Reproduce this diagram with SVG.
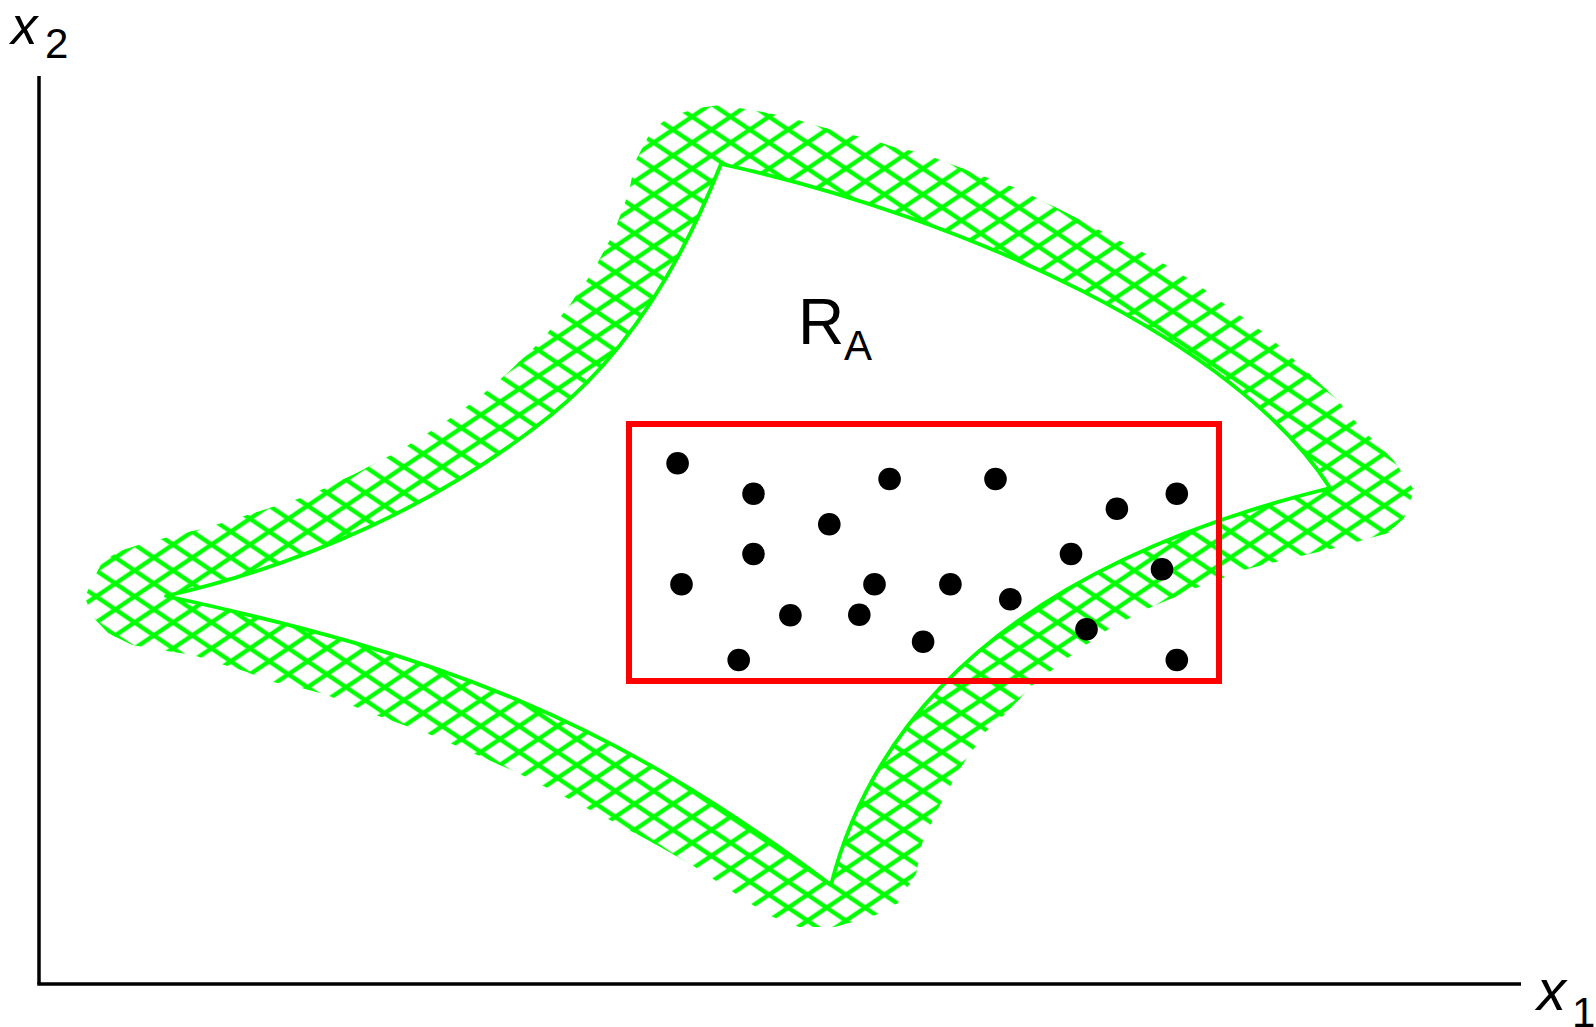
<svg xmlns="http://www.w3.org/2000/svg" width="1596" height="1027" viewBox="0 0 1596 1027">
  <style>
    .axis { stroke: #000; stroke-width: 3.5; fill: none; }
    .lbl { font-family: "Liberation Sans", Arial, sans-serif; fill: #000; }
    .inner { fill: none; stroke: #00ff00; stroke-width: 3.8; stroke-linejoin: round; }
    .box { fill: none; stroke: #ff0000; stroke-width: 6; }
    .dot { fill: #000; }
  </style>
  <defs>
    <pattern id="hatchA" width="40" height="21.5" patternUnits="userSpaceOnUse" patternTransform="rotate(34)">
      <line x1="-1" y1="10.75" x2="41" y2="10.75" stroke="#00ff00" stroke-width="4.2"/>
    </pattern>
    <pattern id="hatchB" width="40" height="21.5" patternUnits="userSpaceOnUse" patternTransform="rotate(-34)">
      <line x1="-1" y1="10.75" x2="41" y2="10.75" stroke="#00ff00" stroke-width="4.2"/>
    </pattern>
    <clipPath id="bandClip">
      <path clip-rule="evenodd" d="M84.6,597 L102.4,561.4 120.3,550.7 149.3,541.8 207.3,527.5 258.7,511.4 310,495 354.6,474 399.3,450.7 439.5,425.7 477.4,399 508.6,372 542,340 569,306 593.5,270.4 613.6,232.9 629,191.8 635,161.7 651.7,130 670,116.7 696.7,108.3 720,105 751.7,110 787,116.7 837.7,131.7 866.7,138.3 892.8,146.7 922.7,153.3 970.9,171.7 1016.8,188.3 1067.3,213.3 1108.6,235 1154.5,258.3 1195.9,283.3 1232.6,310 1269.3,336.7 1301.5,366.7 1335.9,398.3 1361,428.3 1393.3,460 1414,490 1404,518 1388,533 1339,547 1275.5,562 1247,569 1196,588 1149,608 1110,628 1069,657 1032.7,685 1004,715 985.7,731.7 961,766.7 940.8,803 922.4,841.7 916.3,873 898,903 875.5,915 849,923 834.7,927 799,927 768,915 732.6,891.7 692,865 651,841.7 610,820 518,773 470,751.7 426.5,733 370,713 327,695 298,687 273,682 247,672 218,663 193,655 160,650 132,645 108,633 93,617 Z M721,164 C965,217 1238,342 1330,488 C1053.5,556.4 881.6,686.4 831,885 C607,717 439.6,655.6 166,596 C304.5,564.5 440.2,503.8 551,415 C629.8,351.9 683.8,258 721,164 Z"/>
    </clipPath>
  </defs>

  <g id="axes">
    <line class="axis" x1="39" y1="76" x2="39" y2="984"/>
    <line class="axis" x1="37.25" y1="984" x2="1521" y2="984"/>
  </g>

  <g id="axis-labels">
    <text class="lbl" font-size="53"><tspan x="11" y="44" font-style="italic">x</tspan><tspan x="45" y="58" font-size="42">2</tspan></text>
    <text class="lbl" font-size="58"><tspan x="1537" y="1010" font-style="italic">x</tspan><tspan x="1572" y="1027" font-size="42">1</tspan></text>
  </g>

  <g id="region-RA">
    <g id="band-hatch" clip-path="url(#bandClip)">
      <rect x="60" y="90" width="1380" height="860" fill="url(#hatchA)"/>
      <rect x="60" y="90" width="1380" height="860" fill="url(#hatchB)"/>
    </g>
    <path id="inner-boundary" class="inner" d="M721,164 C965,217 1238,342 1330,488 C1053.5,556.4 881.6,686.4 831,885 C607,717 439.6,655.6 166,596 C304.5,564.5 440.2,503.8 551,415 C629.8,351.9 683.8,258 721,164 Z"/>
    <text class="lbl" font-size="64"><tspan x="798" y="344">R</tspan><tspan x="844" y="360" font-size="42">A</tspan></text>
  </g>

  <g id="sample-box">
    <rect class="box" x="629" y="424" width="590" height="257"/>
  </g>

  <g id="samples">
    <circle class="dot" cx="677.6" cy="463.3" r="11.3"/>
    <circle class="dot" cx="753.5" cy="493.7" r="11.3"/>
    <circle class="dot" cx="889.6" cy="479" r="11.3"/>
    <circle class="dot" cx="995.5" cy="479" r="11.3"/>
    <circle class="dot" cx="1116.9" cy="508.7" r="11.3"/>
    <circle class="dot" cx="1176.8" cy="493.7" r="11.3"/>
    <circle class="dot" cx="829.3" cy="524.3" r="11.3"/>
    <circle class="dot" cx="753.5" cy="554" r="11.3"/>
    <circle class="dot" cx="681.5" cy="584.3" r="11.3"/>
    <circle class="dot" cx="1071" cy="554" r="11.3"/>
    <circle class="dot" cx="1162" cy="569.3" r="11.3"/>
    <circle class="dot" cx="874.5" cy="584.3" r="11.3"/>
    <circle class="dot" cx="950.4" cy="584.3" r="11.3"/>
    <circle class="dot" cx="1010.3" cy="599.3" r="11.3"/>
    <circle class="dot" cx="790.4" cy="615.3" r="11.3"/>
    <circle class="dot" cx="859.3" cy="614.7" r="11.3"/>
    <circle class="dot" cx="923.1" cy="641.7" r="11.3"/>
    <circle class="dot" cx="1086.5" cy="629.3" r="11.3"/>
    <circle class="dot" cx="738.7" cy="660" r="11.3"/>
    <circle class="dot" cx="1176.8" cy="660" r="11.3"/>
  </g>
</svg>
